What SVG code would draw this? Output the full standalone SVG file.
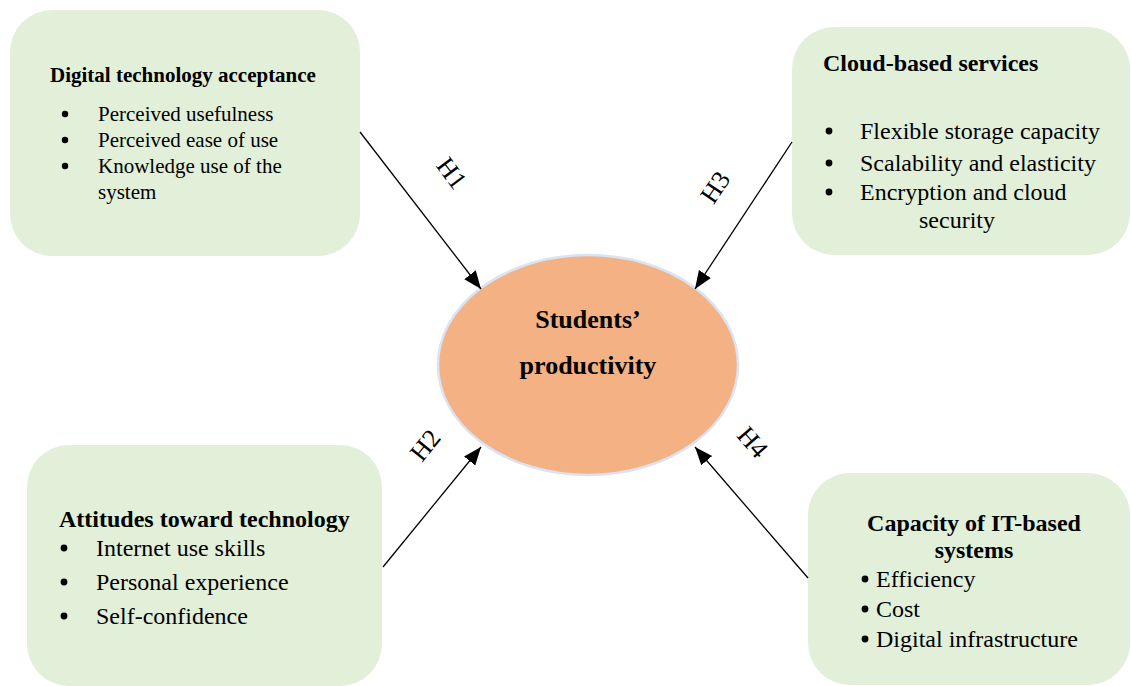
<svg xmlns="http://www.w3.org/2000/svg" width="1131" height="686" viewBox="0 0 1131 686">
<style>
.box{fill:#E2EFD9;}
.t{font-family:"Liberation Serif","Times New Roman",serif;fill:#000;}
.h{font-weight:bold;}
.conn line{stroke:#000;stroke-width:1.3;fill:none;}
.lbl{font-family:"Liberation Serif","Times New Roman",serif;font-size:26px;fill:#000;}
</style>
<defs>
<marker id="arrL" viewBox="0 0 10 10" refX="10" refY="5" markerWidth="18" markerHeight="18" markerUnits="userSpaceOnUse" orient="auto">
<path d="M0,1 L10,5 L0,9 z" fill="#000"/>
</marker>
</defs>
<rect width="1131" height="686" fill="#fff"/>

<g id="node-dta">
<rect class="box" x="10" y="10" width="350" height="246" rx="42"/>
<text class="t h" x="50" y="82" font-size="21">Digital technology acceptance</text>
<g class="t" font-size="21">
<circle cx="65" cy="114" r="3.2"/>
<circle cx="65" cy="140" r="3.2"/>
<circle cx="65" cy="166" r="3.2"/>
<text x="98" y="121">Perceived usefulness</text>
<text x="98" y="147">Perceived ease of use</text>
<text x="98" y="173">Knowledge use of the</text>
<text x="98" y="199">system</text>
</g>
</g>

<g id="node-cloud">
<rect class="box" x="792" y="27" width="338" height="228" rx="42"/>
<text class="t h" x="823" y="71" font-size="24">Cloud-based services</text>
<g class="t" font-size="24">
<circle cx="829" cy="131" r="3.4"/>
<circle cx="829" cy="163" r="3.4"/>
<circle cx="829" cy="192" r="3.4"/>
<text x="860" y="139">Flexible storage capacity</text>
<text x="860" y="171">Scalability and elasticity</text>
<text x="860" y="200">Encryption and cloud</text>
<text x="919" y="228">security</text>
</g>
</g>

<g id="node-att">
<rect class="box" x="27" y="445" width="355" height="241" rx="42"/>
<text class="t h" x="59" y="527" font-size="24">Attitudes toward technology</text>
<g class="t" font-size="24">
<circle cx="64" cy="548" r="3.4"/>
<circle cx="64" cy="582" r="3.4"/>
<circle cx="64" cy="616" r="3.4"/>
<text x="96" y="556">Internet use skills</text>
<text x="96" y="590">Personal experience</text>
<text x="96" y="624">Self-confidence</text>
</g>
</g>

<g id="node-cap">
<rect class="box" x="808" y="473" width="322" height="212" rx="42"/>
<text class="t h" x="974" y="531" font-size="24" text-anchor="middle">Capacity of IT-based</text>
<text class="t h" x="974" y="558" font-size="24" text-anchor="middle">systems</text>
<g class="t" font-size="24">
<circle cx="865" cy="579" r="3.4"/>
<circle cx="865" cy="609" r="3.4"/>
<circle cx="865" cy="639" r="3.4"/>
<text x="876" y="587">Efficiency</text>
<text x="876" y="617">Cost</text>
<text x="876" y="647">Digital infrastructure</text>
</g>
</g>

<g id="node-prod">
<ellipse cx="588" cy="365" rx="150" ry="110" fill="#F4B183" stroke="#DAE3F3" stroke-width="2.5"/>
<text class="t h" x="588" y="328" font-size="26" text-anchor="middle">Students’</text>
<text class="t h" x="588" y="374" font-size="26" text-anchor="middle">productivity</text>
</g>

<g id="connectors" class="conn">
<line x1="360" y1="132" x2="481" y2="289" marker-end="url(#arrL)"/>
<line x1="383" y1="567" x2="481" y2="447" marker-end="url(#arrL)"/>
<line x1="792" y1="142" x2="695" y2="289" marker-end="url(#arrL)"/>
<line x1="808" y1="578" x2="695" y2="447" marker-end="url(#arrL)"/>
<text class="lbl" x="452" y="182" text-anchor="middle" transform="rotate(53 452 173)">H1</text>
<text class="lbl" x="425" y="454" text-anchor="middle" transform="rotate(-51 425 445)">H2</text>
<text class="lbl" x="715" y="196" text-anchor="middle" transform="rotate(-56 715 187)">H3</text>
<text class="lbl" x="753" y="451" text-anchor="middle" transform="rotate(49 753 442)">H4</text>
</g>
</svg>
